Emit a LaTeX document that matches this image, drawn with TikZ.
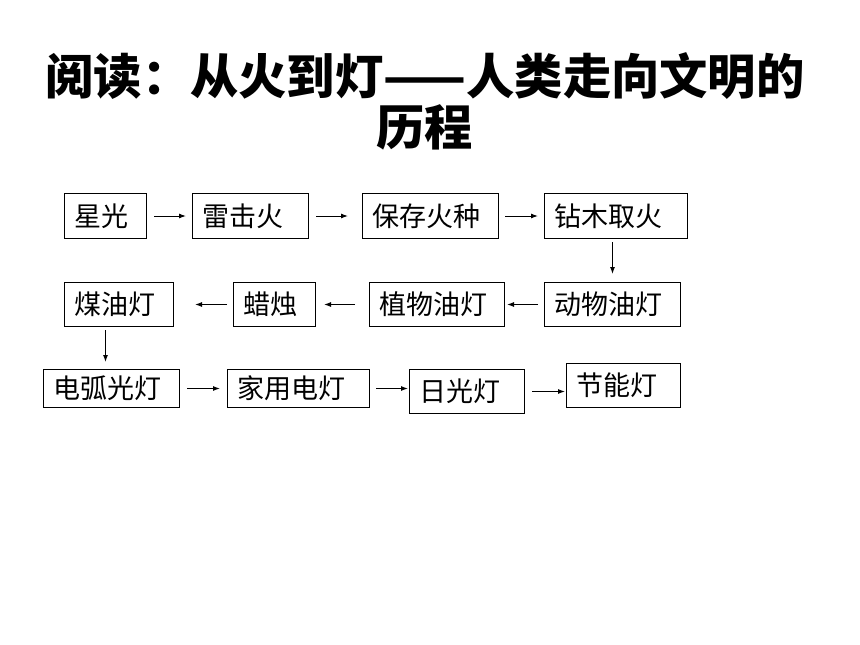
\documentclass[tikz,border=0pt]{standalone}
\usepackage{fontspec}
\usepackage{tikz}
\usetikzlibrary{arrows.meta}
\newfontfamily\cjk{Noto Sans CJK SC}

\tikzset{
  box/.style={draw, line width=1pt, anchor=north west, inner xsep=10pt, inner ysep=0pt, align=left, font=\cjk\fontsize{27}{27}\selectfont},
  arr/.style={line width=1pt, -{Latex[length=7pt, width=5pt]}}
}

\begin{document}
\begin{tikzpicture}[x=1pt, y=-1pt]
        \useasboundingbox (0,0) rectangle (860,645);
        \node[font=\cjk\bfseries\fontsize{48.3}{51}\selectfont, align=center] (title) at (425,101) {阅读：从火到灯——人类走向文明的\\历程};
        \node[box, text width=62pt, minimum height=45pt] (star) at (64,193) {星光};
        \node[box, text width=96pt, minimum height=45pt] (thunder) at (192,193) {雷击火};
        \node[box, text width=116pt, minimum height=45pt] (keep) at (362,193) {保存火种};
        \node[box, text width=123pt, minimum height=45pt] (drill) at (544,193) {钻木取火};
        \node[box, text width=116pt, minimum height=44pt] (animal) at (544,282) {动物油灯};
        \node[box, text width=115pt, minimum height=44pt] (plant) at (369,282) {植物油灯};
        \node[box, text width=62pt, minimum height=44pt] (candle) at (233,282) {蜡烛};
        \node[box, text width=89pt, minimum height=44pt] (kerosene) at (64,282) {煤油灯};
        \node[box, text width=116pt, minimum height=38pt] (arc) at (43,369) {电弧光灯};
        \node[box, text width=122pt, minimum height=38pt] (home) at (227,369) {家用电灯};
        \node[box, text width=95pt, minimum height=44pt] (fluor) at (409,369) {日光灯};
        \node[box, text width=94pt, minimum height=44pt] (saver) at (566,363) {节能灯};
        \draw[arr, shorten <=7pt, shorten >=6pt] (star) -- (thunder);
        \draw[arr, shorten <=7pt, shorten >=14pt] (thunder) -- (keep);
        \draw[arr, shorten <=6pt, shorten >=6pt] (keep) -- (drill);
        \draw[arr, shorten <=3pt, shorten >=8pt] (drill.south -| animal.north) -- (animal.north);
        \draw[arr, shorten <=6pt, shorten >=2pt] (animal) -- (plant);
        \draw[arr, shorten <=14pt, shorten >=8pt] (plant) -- (candle);
        \draw[arr, shorten <=6pt, shorten >=21pt] (candle) -- (kerosene);
        \draw[arr, shorten <=3pt, shorten >=7pt] ([xshift=-6pt]kerosene.south -| arc.north) -- ([xshift=-6pt]arc.north);
        \draw[arr, shorten <=7pt, shorten >=7pt] (arc) -- (home);
        \draw[arr, shorten <=6pt, shorten >=1pt] (home.east) -- (home.east -| fluor.west);
        \draw[arr, shorten <=7pt, shorten >=1pt] (fluor.east) -- (fluor.east -| saver.west);
\end{tikzpicture}
\end{document}
